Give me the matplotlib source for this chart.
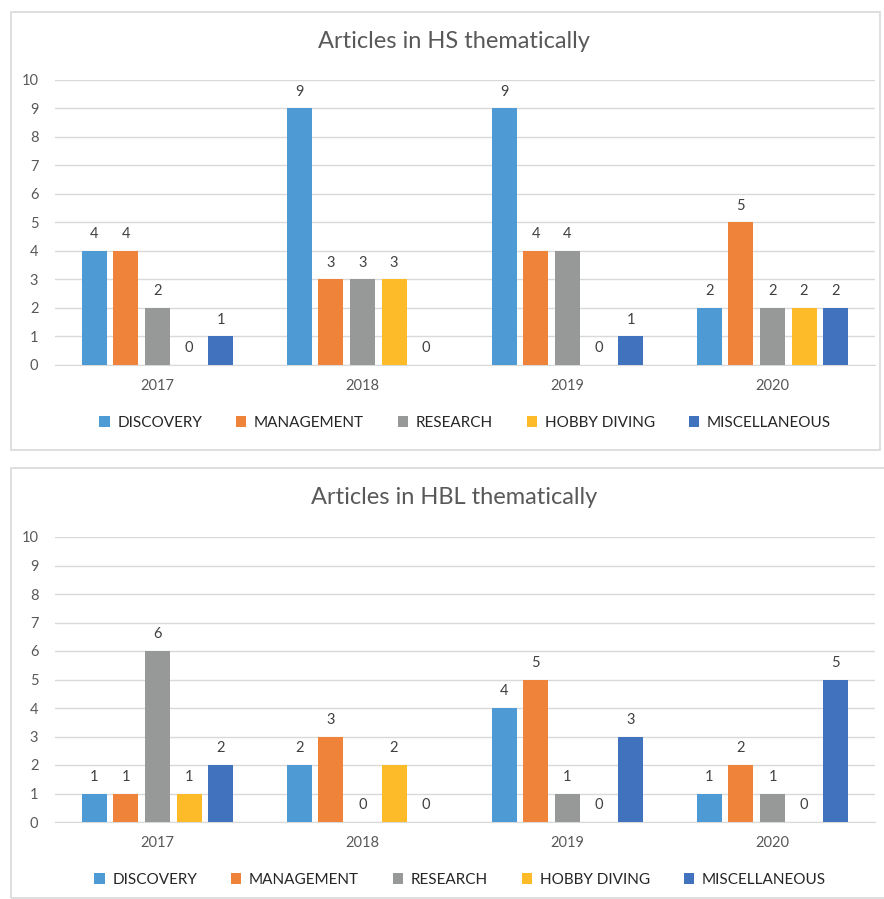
"""Grouped bar charts of HS and HBL articles by theme, 2017-2020."""

import matplotlib.pyplot as plt
import numpy as np
from matplotlib.patches import Rectangle

plt.rcParams["font.family"] = ["Lato", "DejaVu Sans"]

YEARS = ["2017", "2018", "2019", "2020"]
THEMES = ["DISCOVERY", "MANAGEMENT", "RESEARCH", "HOBBY DIVING", "MISCELLANEOUS"]
COLORS = ["#4E9AD5", "#F0833A", "#979999", "#FDBB29", "#4172BE"]

# rows = theme, columns = year
HS_COUNTS = [
    [4, 9, 9, 2],
    [4, 3, 4, 5],
    [2, 3, 4, 2],
    [0, 3, 0, 2],
    [1, 0, 1, 2],
]
HBL_COUNTS = [
    [1, 2, 4, 1],
    [1, 3, 5, 2],
    [6, 0, 1, 1],
    [1, 2, 0, 0],
    [2, 0, 3, 5],
]

TEXT_GREY = "#595959"
GRID_GREY = "#D9D9D9"
W, H = 884, 899


def _draw_panel(fig, rect, frame, title, title_y, counts, legend_xy):
    ax = fig.add_axes(rect)
    x = np.arange(len(YEARS))
    step, width = 0.154, 0.122
    for i, (theme, vals) in enumerate(zip(THEMES, counts)):
        pos = x + (i - 2) * step
        bars = ax.bar(pos, vals, width=width, color=COLORS[i], label=theme, zorder=3)
        for b, v in zip(bars, vals):
            ax.annotate(str(v), (b.get_x() + b.get_width() / 2, v), xytext=(0, 7),
                        textcoords="offset points", ha="center", va="bottom",
                        fontsize=10.5, color="#404040")
    ax.set_xlim(-0.5, len(YEARS) - 0.5)
    ax.set_ylim(0, 10)
    ax.set_yticks(range(11))
    ax.set_xticks(x, YEARS)
    ax.yaxis.grid(True, color=GRID_GREY, linewidth=1, zorder=0)
    for s in ("left", "right", "top"):
        ax.spines[s].set_visible(False)
    ax.spines["bottom"].set_color(GRID_GREY)
    ax.tick_params(length=0, labelsize=10.5, colors=TEXT_GREY)
    ax.tick_params(axis="y", pad=12)
    ax.tick_params(axis="x", pad=10)

    fig.text(454 / W, 1 - title_y / H, title,
             ha="center", va="center", fontsize=17, color=TEXT_GREY)
    fig.patches.append(Rectangle((frame[0] / W, 1 - frame[3] / H),
                                 (frame[2] - frame[0]) / W, (frame[3] - frame[1]) / H,
                                 transform=fig.transFigure, fill=False,
                                 edgecolor=GRID_GREY, linewidth=1.2))
    handles, labels = ax.get_legend_handles_labels()
    fig.legend(handles, labels, loc="center", ncol=5, frameon=False,
               bbox_to_anchor=(legend_xy[0] / W, 1 - legend_xy[1] / H),
               fontsize=11, handlelength=0.7, handleheight=0.7, handletextpad=0.5,
               columnspacing=2.2, labelcolor="#262626")
    return ax


def main():
    fig = plt.figure(figsize=(W / 100, H / 100), dpi=100)
    _draw_panel(fig, [55 / W, 1 - 365 / H, 820 / W, 285 / H], (11, 12, 880, 450),
                "Articles in HS thematically", 42, HS_COUNTS, (465, 423))
    _draw_panel(fig, [55 / W, 1 - 822 / H, 820 / W, 285 / H], (11, 468, 890, 898),
                "Articles in HBL thematically", 498, HBL_COUNTS, (460, 880))
    fig.savefig("out.png", dpi=100)


if __name__ == "__main__":
    main()
